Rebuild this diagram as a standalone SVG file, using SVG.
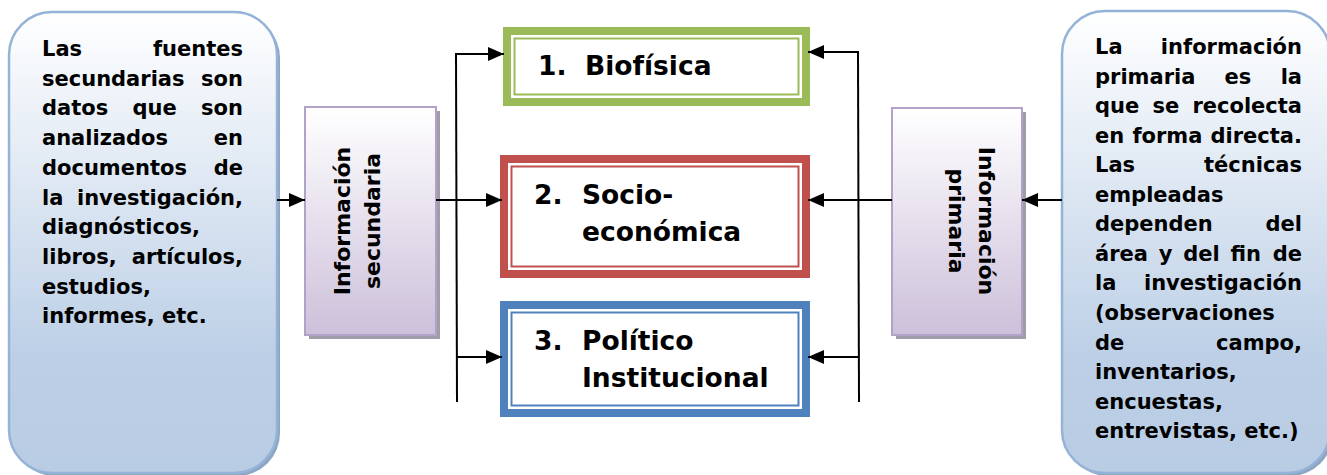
<svg xmlns="http://www.w3.org/2000/svg" width="1327" height="475" viewBox="0 0 1327 475">
<defs>
<linearGradient id="gBlue" x1="0" y1="0" x2="0" y2="1">
<stop offset="0" stop-color="#ffffff"/>
<stop offset="0.75" stop-color="#bccfe6"/>
<stop offset="1" stop-color="#b8cce4"/>
</linearGradient>
<linearGradient id="gPurple" x1="0" y1="0" x2="0" y2="1">
<stop offset="0" stop-color="#ffffff"/>
<stop offset="1" stop-color="#ccc0da"/>
</linearGradient>
<marker id="arr" viewBox="0 0 16 14" refX="16" refY="7" markerWidth="16" markerHeight="14" markerUnits="userSpaceOnUse" orient="auto">
<path d="M0,0 L16,7 L0,14 z" fill="#000"/>
</marker>
<style>
.t{font-family:"DejaVu Sans","Verdana",sans-serif;font-weight:bold;font-size:21px;fill:#000}
.r{font-size:22px}
.c{font-family:"DejaVu Sans","Verdana",sans-serif;font-weight:bold;font-size:26.5px;fill:#000}
.e{text-anchor:end}
.m{text-anchor:middle}
.big{fill:url(#gBlue);stroke:#95b3d7;stroke-width:2.5}
.bigsh{fill:#8ea6c4}
.pur{fill:url(#gPurple);stroke:#b3a2c7;stroke-width:2}
.pursh{fill:#a09ca8}
.ln{fill:none;stroke:#000;stroke-width:2}
</style>
</defs>

<g id="fuentes-secundarias">
<rect class="bigsh" x="12" y="15" width="268" height="461" rx="43"/>
<rect class="big" x="9" y="12" width="268" height="461" rx="43"/>
<text class="t" x="42" y="56">Las</text><text class="t e" x="243" y="56">fuentes</text>
<text class="t" x="42" y="85.7">secundarias</text><text class="t e" x="243" y="85.7">son</text>
<text class="t" x="42" y="115.4">datos</text><text class="t" x="132.5" y="115.4">que</text><text class="t e" x="243" y="115.4">son</text>
<text class="t" x="42" y="145.1">analizados</text><text class="t e" x="243" y="145.1">en</text>
<text class="t" x="42" y="174.8">documentos</text><text class="t e" x="243" y="174.8">de</text>
<text class="t" x="42" y="204.5">la</text><text class="t e" x="243" y="204.5">investigación,</text>
<text class="t" x="42" y="234.2">diagnósticos,</text>
<text class="t" x="42" y="263.9">libros,</text><text class="t e" x="243" y="263.9">artículos,</text>
<text class="t" x="42" y="293.6">estudios,</text>
<text class="t" x="42" y="323.3">informes, etc.</text>
</g>

<g id="informacion-secundaria">
<rect class="pursh" x="309" y="111" width="131" height="228"/>
<rect class="pur" x="305" y="107" width="131" height="228"/>
<text class="t r m" transform="translate(350,221) rotate(-90)">Información</text>
<text class="t r m" transform="translate(380,221) rotate(-90)">secundaria</text>
</g>

<g id="biofisica">
<rect x="507" y="31" width="299" height="71" fill="#fff" stroke="#9bbb59" stroke-width="8"/>
<rect x="514.5" y="38.5" width="284" height="56" fill="none" stroke="#9bbb59" stroke-width="2"/>
<text class="c" x="538" y="75">1.</text><text class="c" x="585" y="75">Biofísica</text>
</g>

<g id="socioeconomica">
<rect x="504" y="159" width="302" height="115" fill="#fff" stroke="#c0504d" stroke-width="8"/>
<rect x="511.5" y="166.5" width="287" height="100" fill="none" stroke="#c0504d" stroke-width="2"/>
<text class="c" x="534" y="204">2.</text><text class="c" x="582" y="204">Socio-</text>
<text class="c" x="582" y="241">económica</text>
</g>

<g id="politico-institucional">
<rect x="504" y="305" width="302" height="108" fill="#fff" stroke="#4f81bd" stroke-width="8"/>
<rect x="511.5" y="312.5" width="287" height="93" fill="none" stroke="#4f81bd" stroke-width="2"/>
<text class="c" x="534" y="350">3.</text><text class="c" x="582" y="350">Político</text>
<text class="c" x="582" y="387">Institucional</text>
</g>

<g id="informacion-primaria">
<rect class="pursh" x="896" y="112" width="130" height="227"/>
<rect class="pur" x="892" y="108" width="130" height="227"/>
<text class="t r m" transform="translate(979,221) rotate(90)">Información</text>
<text class="t r m" transform="translate(949,221) rotate(90)">primaria</text>
</g>

<g id="informacion-primaria-texto">
<rect class="bigsh" x="1065" y="14" width="268" height="462" rx="43"/>
<rect class="big" x="1062" y="11" width="268" height="462" rx="43"/>
<text class="t" x="1095" y="54">La</text><text class="t e" x="1302" y="54">información</text>
<text class="t" x="1095" y="83.5">primaria</text><text class="t" x="1224.6" y="83.5">es</text><text class="t e" x="1302" y="83.5">la</text>
<text class="t" x="1095" y="113.1">que</text><text class="t" x="1152.5" y="113.1">se</text><text class="t e" x="1302" y="113.1">recolecta</text>
<text class="t" x="1095" y="142.6">en</text><text class="t" x="1132.4" y="142.6">forma</text><text class="t e" x="1302" y="142.6">directa.</text>
<text class="t" x="1095" y="172.2">Las</text><text class="t e" x="1302" y="172.2">técnicas</text>
<text class="t" x="1095" y="201.7">empleadas</text>
<text class="t" x="1095" y="231.3">dependen</text><text class="t e" x="1302" y="231.3">del</text>
<text class="t" x="1095" y="260.8">área</text><text class="t" x="1158.7" y="260.8">y</text><text class="t" x="1183.2" y="260.8">del</text><text class="t" x="1230.5" y="260.8">fin</text><text class="t e" x="1302" y="260.8">de</text>
<text class="t" x="1095" y="290.4">la</text><text class="t e" x="1302" y="290.4">investigación</text>
<text class="t" x="1095" y="319.9">(observaciones</text>
<text class="t" x="1095" y="349.5">de</text><text class="t e" x="1302" y="349.5">campo,</text>
<text class="t" x="1095" y="379">inventarios,</text>
<text class="t" x="1095" y="408.6">encuestas,</text>
<text class="t" x="1095" y="438">entrevistas, etc.)</text>
</g>

<g id="connectors">
<line class="ln" x1="277" y1="200" x2="305" y2="200" marker-end="url(#arr)"/>
<line class="ln" x1="436" y1="200" x2="502" y2="200" marker-end="url(#arr)"/>
<line class="ln" x1="456" y1="53" x2="457" y2="402"/>
<line class="ln" x1="457" y1="54" x2="504" y2="54" marker-end="url(#arr)"/>
<line class="ln" x1="457" y1="357" x2="502" y2="357" marker-end="url(#arr)"/>
<line class="ln" x1="858" y1="52" x2="859" y2="402"/>
<line class="ln" x1="859" y1="52" x2="808" y2="52" marker-end="url(#arr)"/>
<line class="ln" x1="892" y1="200" x2="808" y2="200" marker-end="url(#arr)"/>
<line class="ln" x1="859" y1="357" x2="808" y2="357" marker-end="url(#arr)"/>
<line class="ln" x1="1062" y1="200" x2="1022" y2="200" marker-end="url(#arr)"/>
</g>
</svg>
